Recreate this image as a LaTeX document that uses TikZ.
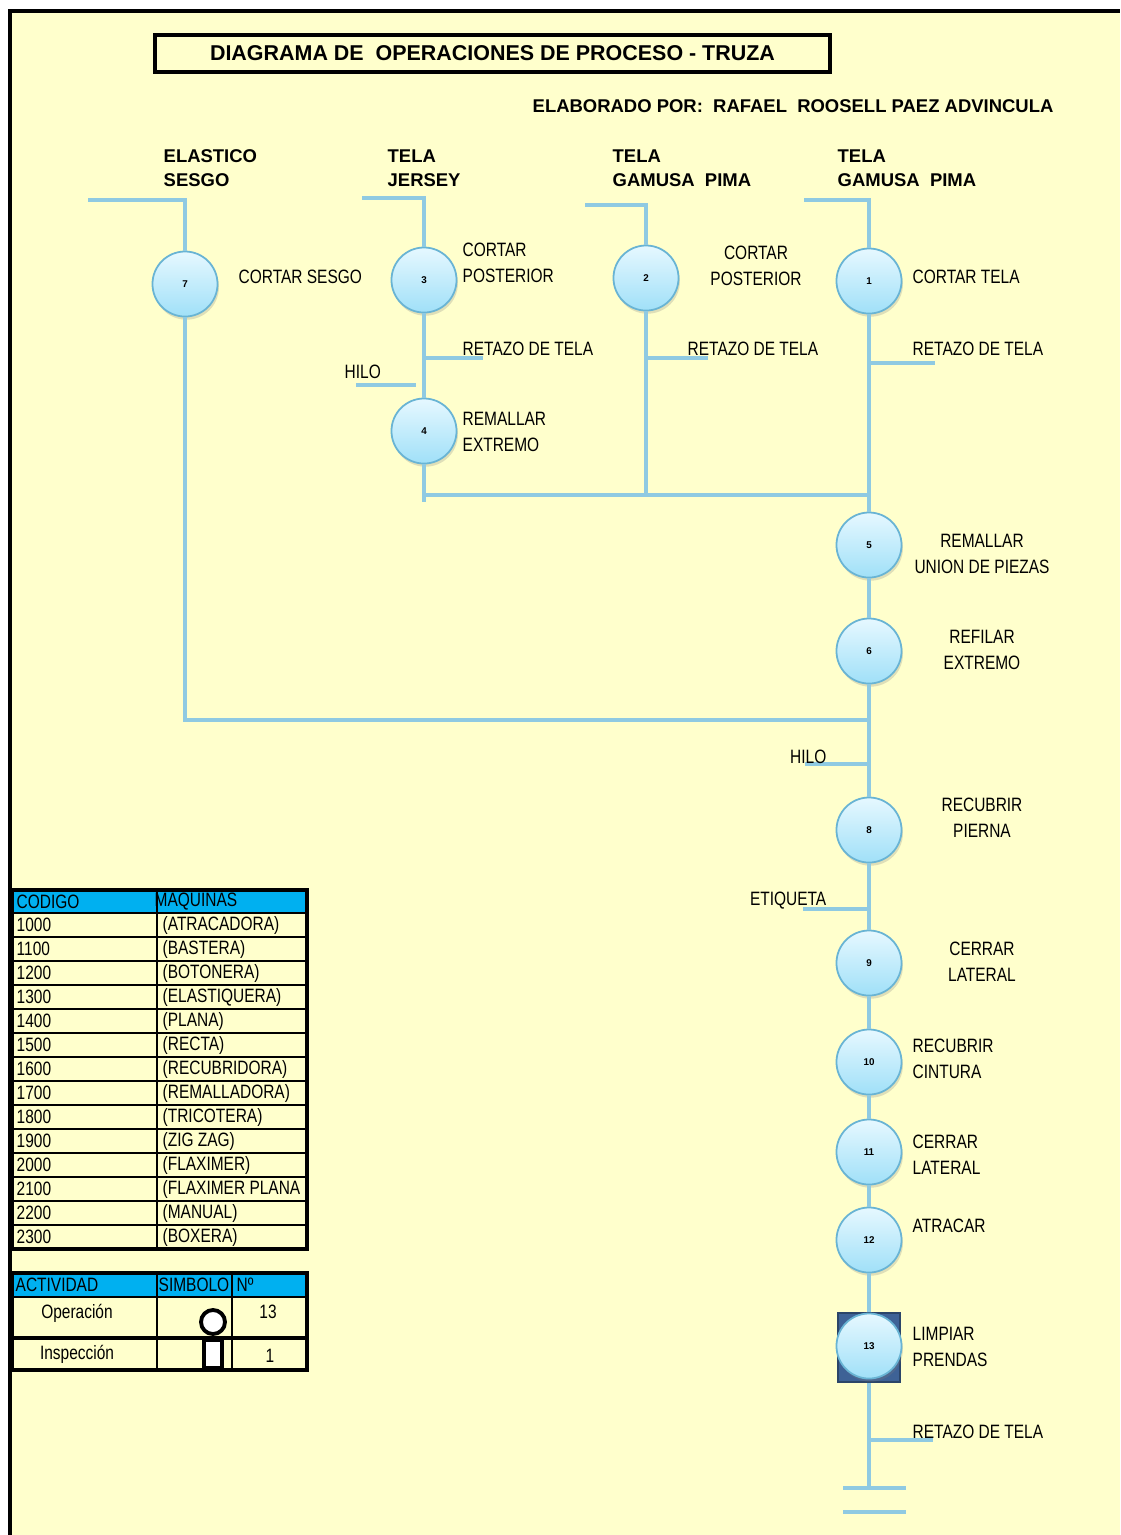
\documentclass[tikz,border=0pt]{standalone}
\usepackage{fontspec}
\setmainfont{Liberation Sans}
\newfontfamily\narrowfont[FakeStretch=0.8]{Liberation Sans}
\usetikzlibrary{shadows}
\definecolor{bgyellow}{RGB}{255,255,204}
\definecolor{flowblue}{RGB}{143,202,226}
\definecolor{opedge}{RGB}{105,180,212}
\definecolor{optop}{RGB}{230,248,255}
\definecolor{opbottom}{RGB}{160,224,248}
\definecolor{headcyan}{RGB}{0,176,240}
\definecolor{sqblue}{RGB}{62,98,150}
\newcommand{\txt}{\narrowfont\fontsize{5.5}{7.4}\selectfont}
\newcommand{\hdr}{\bfseries\fontsize{5.25}{6.8}\selectfont}
\begin{document}
\begin{tikzpicture}[x=0.01cm,y=-0.01cm,
  flow/.style={flowblue,line width=1.1pt},
  op/.style={circle,draw=opedge,line width=0.5pt,top color=optop,bottom color=opbottom,
    minimum size=0.65cm,inner sep=0pt,font=\bfseries\fontsize{2.8}{3}\selectfont,
    drop shadow={opacity=0.25,shadow xshift=0.4pt,shadow yshift=-0.9pt}},
  lbl/.style={inner sep=0pt,font=\txt,align=left},
  lblc/.style={inner sep=0pt,font=\txt,align=center},
  head/.style={inner sep=0pt,font=\hdr,align=left,anchor=west},
  cell/.style={inner sep=0pt,font=\txt,anchor=west},
  tabline/.style={black,line width=0.7pt}]
\useasboundingbox (0,0) rectangle (1120,1535);
% hoja
\fill[white] (0,0) rectangle (1120,1535);
\fill[bgyellow] (10,11) rectangle (1120,1535);
\draw[line width=1.2pt] (10,1535) -- (10,11) -- (1120,11);
\node[draw,line width=1pt,minimum width=6.75cm,minimum height=0.37cm,inner sep=0pt,
  font=\bfseries\fontsize{6.1}{7}\selectfont] (title) at (492.5,53.5) {DIAGRAMA DE~~OPERACIONES DE PROCESO - TRUZA};
\node[head,font=\bfseries\fontsize{5.25}{6.8}\selectfont] (autor) at (532,106) {ELABORADO POR:~~RAFAEL~~ROOSELL PAEZ ADVINCULA};
\node[head] (hA) at (163,168) {ELASTICO\\SESGO};
\node[head] (hB) at (387,168) {TELA\\JERSEY};
\node[head] (hC) at (612,168) {TELA\\GAMUSA~~PIMA};
\node[head] (hD) at (837,168) {TELA\\GAMUSA~~PIMA};
% operaciones
\node[op] (c7) at (185,284) {7};
\node[op] (c3) at (424,280) {3};
\node[op] (c4) at (424,431) {4};
\node[op] (c2) at (646,278) {2};
\node[op] (c1) at (869,281) {1};
\node[op] (c5) at (869,545) {5};
\node[op] (c6) at (869,651) {6};
\node[op] (c8) at (869,830) {8};
\node[op] (c9) at (869,963) {9};
\node[op] (c10) at (869,1062) {10};
\node[op] (c11) at (869,1152) {11};
\node[op] (c12) at (869,1240) {12};
\node[draw=sqblue!70!black,fill=sqblue,line width=0.6pt,minimum width=0.62cm,minimum height=0.69cm,inner sep=0pt] (sq13) at (869,1347.5) {};
\node[op] (c13) at (869,1346) {13};
% puntos de union
\coordinate (a0) at (88,200);  \coordinate (a1) at (185,200);  \coordinate (a2) at (185,720);
\coordinate (b0) at (362,198); \coordinate (b1) at (424,198);  \coordinate (b2) at (424,502);
\coordinate (b3) at (424,495);
\coordinate (d0) at (585,205); \coordinate (d1) at (646,205);  \coordinate (d2) at (646,495);
\coordinate (e0) at (804,200); \coordinate (e1) at (869,200);
\coordinate (j1) at (869,495); \coordinate (j2) at (869,720);
\coordinate (fin) at (869,1488);
\draw[flow] (a0) -- (a1) -- (c7);
\draw[flow] (c7) -- (a2) -- (j2);
\draw[flow] (b0) -- (b1) -- (c3);
\draw[flow] (c3) -- (c4);
\draw[flow] (c4) -- (b2);
\draw[flow] (b3) -- (j1);
\draw[flow] (d0) -- (d1) -- (c2);
\draw[flow] (c2) -- (d2);
\draw[flow] (e0) -- (e1) -- (c1);
\draw[flow] (c1) -- (c5) -- (c6) -- (c8) -- (c9) -- (c10) -- (c11) -- (c12) -- (sq13);
\draw[flow] (sq13) -- (fin);
% entradas y salidas
\coordinate (rB) at (424,358); \coordinate (rBe) at (483,358);
\coordinate (rC) at (646,358); \coordinate (rCe) at (708,358);
\coordinate (rD) at (869,363); \coordinate (rDe) at (935,363);
\coordinate (hB0) at (356,385); \coordinate (hB1) at (416,385);
\coordinate (hM0) at (805,764); \coordinate (hM1) at (869,764);
\coordinate (et0) at (803,909); \coordinate (et1) at (869,909);
\coordinate (rM) at (869,1440); \coordinate (rMe) at (933,1440);
\coordinate (f0) at (843,1488); \coordinate (f1) at (906,1488);
\coordinate (g0) at (843,1512); \coordinate (g1) at (906,1512);
\draw[flow] (rB) -- (rBe);
\draw[flow] (rC) -- (rCe);
\draw[flow] (rD) -- (rDe);
\draw[flow] (hB0) -- (hB1);
\draw[flow] (hM0) -- (hM1);
\draw[flow] (et0) -- (et1);
\draw[flow] (rM) -- (rMe);
\draw[flow] (f0) -- (f1);
\draw[flow] (g0) -- (g1);
% textos
\node[lbl,anchor=west] (t7) at (238,277) {CORTAR SESGO};
\node[lbl,anchor=west] (t3) at (462,263) {CORTAR\\POSTERIOR};
\node[lblc] (t2) at (756,266) {CORTAR\\POSTERIOR};
\node[lbl,anchor=west] (t1) at (912,277) {CORTAR TELA};
\node[lbl,anchor=west] (tB) at (462,349) {RETAZO DE TELA};
\node[lbl,anchor=west] (tC) at (687,349) {RETAZO DE TELA};
\node[lbl,anchor=west] (tD) at (912,349) {RETAZO DE TELA};
\node[lbl,anchor=west] (hiloB) at (344,372) {HILO};
\node[lbl,anchor=west] (t4) at (462,432) {REMALLAR\\EXTREMO};
\node[lblc] (t5) at (982,554) {REMALLAR\\UNION DE PIEZAS};
\node[lblc] (t6) at (982,650) {REFILAR\\EXTREMO};
\node[lbl,anchor=east] (hiloM) at (827,757) {HILO};
\node[lblc] (t8) at (982,818) {RECUBRIR\\PIERNA};
\node[lbl,anchor=east] (etiq) at (827,901) {ETIQUETA};
\node[lblc] (t9) at (982,962) {CERRAR\\LATERAL};
\node[lbl,anchor=west] (t10) at (912,1059) {RECUBRIR\\CINTURA};
\node[lbl,anchor=west] (t11) at (912,1155) {CERRAR\\LATERAL};
\node[lbl,anchor=west] (t12) at (912,1226) {ATRACAR};
\node[lbl,anchor=west] (t13) at (912,1347) {LIMPIAR\\PRENDAS};
\node[lbl,anchor=west] (tM) at (912,1432) {RETAZO DE TELA};
% tabla de maquinas
\fill[headcyan] (12,890) rectangle (307,913);
\begin{scope}
\clip (12,890) rectangle (307,913);
\node[cell] (codh) at (16,902) {CODIGO};
\node[cell] (maqh) at (154,902) {MAQUINAS};
\end{scope}
\draw[tabline] (12,890) rectangle (157,913);
\draw[tabline] (157,890) rectangle (307,913);
\foreach \c/\m [count=\i] in {1000/{(ATRACADORA)},1100/{(BASTERA)},1200/{(BOTONERA)},
  1300/{(ELASTIQUERA)},1400/{(PLANA)},1500/{(RECTA)},1600/{(RECUBRIDORA)},
  1700/{(REMALLADORA)},1800/{(TRICOTERA)},1900/{(ZIG ZAG)},2000/{(FLAXIMER)},
  2100/{(FLAXIMER PLANA},2200/{(MANUAL)},2300/{(BOXERA)}}{
  \draw[tabline] (12,889+24*\i) rectangle (157,913+24*\i);
  \draw[tabline] (157,889+24*\i) rectangle (307,913+24*\i);
  \node[cell] (cod\i) at (16,901+24*\i) {\c};
  \node[cell] (maq\i) at (162,901+24*\i) {\m};
}
\draw[black,line width=1.1pt] (12,890) rectangle (307,1249);
% tabla de actividades
\fill[headcyan] (12,1273) rectangle (307,1297);
\draw[tabline] (12,1297) -- (307,1297);
\draw[black,line width=1.3pt] (12,1338) -- (307,1338);
\draw[tabline] (157,1273) -- (157,1370);
\draw[tabline] (232,1273) -- (232,1370);
\draw[black,line width=1.3pt] (12,1273) rectangle (307,1370);
\node[cell] (acth) at (15,1285) {ACTIVIDAD};
\node[cell] (simh) at (158,1285) {SIMBOLO};
\node[cell] (numh) at (236,1285) {Nº};
\node[inner sep=0pt,font=\txt] (oper) at (77,1313) {Operación};
\node[inner sep=0pt,font=\txt] (insp) at (77,1354) {Inspección};
\node[circle,draw,line width=1.1pt,fill=white,minimum size=0.24cm,inner sep=0pt] (symop) at (213,1322) {};
\node[draw,line width=1.1pt,fill=white,minimum width=0.18cm,minimum height=0.28cm,inner sep=0pt] (symins) at (213,1354) {};
\node[inner sep=0pt,font=\txt] (nop) at (268,1312) {13};
\node[inner sep=0pt,font=\txt] (nins) at (270,1356) {1};
\end{tikzpicture}
\end{document}
